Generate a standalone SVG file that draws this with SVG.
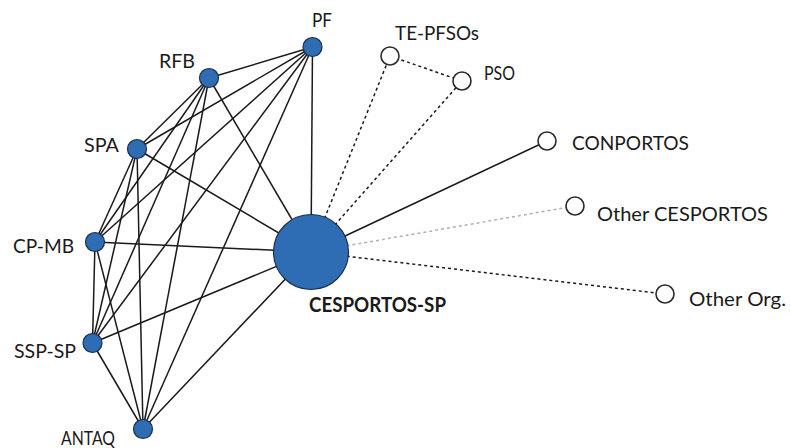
<svg xmlns="http://www.w3.org/2000/svg" width="790" height="448" viewBox="0 0 790 448">
  <style>
    .edge { stroke: #1a1a1a; stroke-width: 1.5; fill: none; }
    .dash { stroke: #1a1a1a; stroke-width: 1.5; stroke-dasharray: 3 3; fill: none; }
    .faint { stroke: #b0b0b0; stroke-width: 1.5; stroke-dasharray: 3 3; fill: none; }
    .agency { fill: #2e6db4; stroke: #1b2f4a; stroke-width: 1.2; }
    .ext { fill: #ffffff; stroke: #2a2a2a; stroke-width: 1.6; }
    .lbl { font-family: Lato, "Liberation Sans", Arial, sans-serif; font-size: 19.5px; fill: #1a1a1a; }
    .hub { font-family: Lato, "Liberation Sans", Arial, sans-serif; font-size: 20px; font-weight: bold; fill: #1a1a1a; }
  </style>
  <rect width="790" height="448" fill="#ffffff"/>

  <g id="connectors">
    <!-- agency cluster: every pair linked -->
    <line class="edge" x1="312.5" y1="47" x2="209" y2="78"/>
    <line class="edge" x1="312.5" y1="47" x2="137" y2="149"/>
    <line class="edge" x1="312.5" y1="47" x2="95" y2="242"/>
    <line class="edge" x1="312.5" y1="47" x2="92.5" y2="343"/>
    <line class="edge" x1="312.5" y1="47" x2="143" y2="429"/>
    <line class="edge" x1="312.5" y1="47" x2="311" y2="252"/>
    <line class="edge" x1="209" y1="78" x2="137" y2="149"/>
    <line class="edge" x1="209" y1="78" x2="95" y2="242"/>
    <line class="edge" x1="209" y1="78" x2="92.5" y2="343"/>
    <line class="edge" x1="209" y1="78" x2="143" y2="429"/>
    <line class="edge" x1="209" y1="78" x2="311" y2="252"/>
    <line class="edge" x1="137" y1="149" x2="95" y2="242"/>
    <line class="edge" x1="137" y1="149" x2="92.5" y2="343"/>
    <line class="edge" x1="137" y1="149" x2="143" y2="429"/>
    <line class="edge" x1="137" y1="149" x2="311" y2="252"/>
    <line class="edge" x1="95" y1="242" x2="92.5" y2="343"/>
    <line class="edge" x1="95" y1="242" x2="143" y2="429"/>
    <line class="edge" x1="95" y1="242" x2="311" y2="252"/>
    <line class="edge" x1="92.5" y1="343" x2="143" y2="429"/>
    <line class="edge" x1="92.5" y1="343" x2="311" y2="252"/>
    <line class="edge" x1="143" y1="429" x2="311" y2="252"/>
    <!-- outside links of the hub -->
    <line class="dash" x1="311" y1="252" x2="390" y2="56"/>
    <line class="dash" x1="311" y1="252" x2="462" y2="81"/>
    <line class="dash" x1="390" y1="56" x2="462" y2="81"/>
    <line class="edge" x1="311" y1="252" x2="547" y2="141"/>
    <line class="faint" x1="311" y1="252" x2="575" y2="206"/>
    <line class="dash" x1="311" y1="252" x2="665" y2="294"/>
  </g>

  <g id="node-pf">
    <circle class="agency" cx="312.5" cy="47" r="9.5"/>
    <text class="lbl" x="312" y="27" textLength="20" lengthAdjust="spacingAndGlyphs">PF</text>
  </g>
  <g id="node-rfb">
    <circle class="agency" cx="209" cy="78" r="9.5"/>
    <text class="lbl" x="159" y="67.5" textLength="36" lengthAdjust="spacingAndGlyphs">RFB</text>
  </g>
  <g id="node-spa">
    <circle class="agency" cx="137" cy="149" r="9.5"/>
    <text class="lbl" x="84" y="151.5" textLength="35" lengthAdjust="spacingAndGlyphs">SPA</text>
  </g>
  <g id="node-cp-mb">
    <circle class="agency" cx="95" cy="242" r="9.5"/>
    <text class="lbl" x="13" y="253" textLength="61" lengthAdjust="spacingAndGlyphs">CP-MB</text>
  </g>
  <g id="node-ssp-sp">
    <circle class="agency" cx="92.5" cy="343" r="9.5"/>
    <text class="lbl" x="14" y="358" textLength="62" lengthAdjust="spacingAndGlyphs">SSP-SP</text>
  </g>
  <g id="node-antaq">
    <circle class="agency" cx="143" cy="429" r="9.5"/>
    <text class="lbl" x="61" y="445" textLength="54" lengthAdjust="spacingAndGlyphs">ANTAQ</text>
  </g>
  <g id="node-cesportos-sp">
    <circle class="agency" cx="311" cy="252" r="37.5"/>
    <text class="hub" x="309" y="312" textLength="137" lengthAdjust="spacingAndGlyphs">CESPORTOS-SP</text>
  </g>
  <g id="node-te-pfsos">
    <circle class="ext" cx="390" cy="56" r="9"/>
    <text class="lbl" x="395" y="40" textLength="84" lengthAdjust="spacingAndGlyphs">TE-PFSOs</text>
  </g>
  <g id="node-pso">
    <circle class="ext" cx="462" cy="81" r="9"/>
    <text class="lbl" x="484" y="80" textLength="31" lengthAdjust="spacingAndGlyphs">PSO</text>
  </g>
  <g id="node-conportos">
    <circle class="ext" cx="547" cy="141" r="9"/>
    <text class="lbl" x="572" y="150" textLength="117" lengthAdjust="spacingAndGlyphs">CONPORTOS</text>
  </g>
  <g id="node-other-cesportos">
    <circle class="ext" cx="575" cy="206" r="9"/>
    <text class="lbl" x="597" y="221" textLength="171" lengthAdjust="spacingAndGlyphs">Other CESPORTOS</text>
  </g>
  <g id="node-other-org">
    <circle class="ext" cx="665" cy="294" r="9"/>
    <text class="lbl" x="689" y="306" textLength="97" lengthAdjust="spacingAndGlyphs">Other Org.</text>
  </g>
</svg>
